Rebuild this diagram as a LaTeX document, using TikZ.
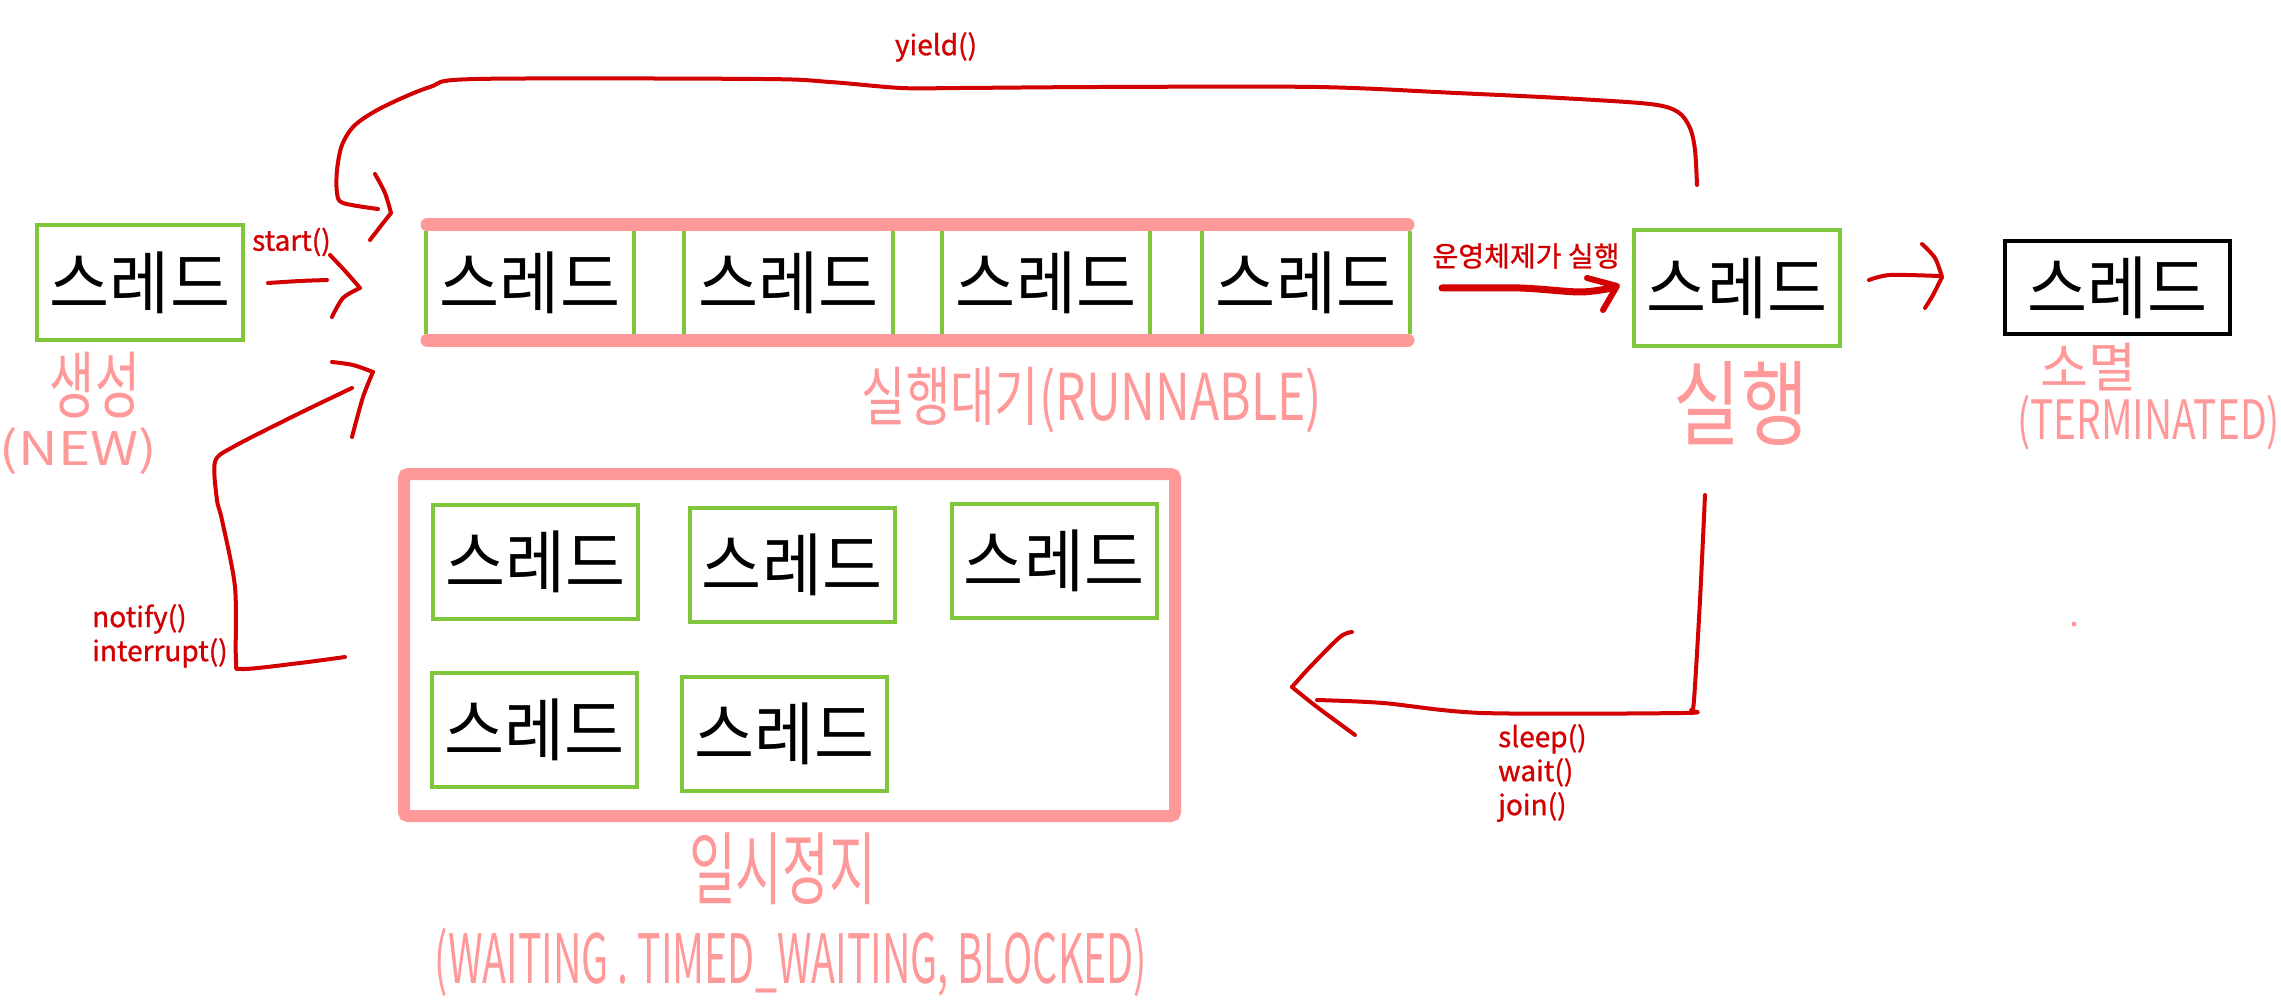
\documentclass[tikz,border=0pt]{standalone}
\usepackage{fontspec}
\usepackage{graphicx}
\setmainfont{Noto Sans CJK KR}
\newfontfamily\hand{Noto Sans CJK KR}
\newfontfamily\lblfont[FakeBold=1]{Noto Sans CJK KR}
\definecolor{grn}{RGB}{128,198,60}
\definecolor{pnk}{RGB}{255,153,153}
\definecolor{rd}{RGB}{210,0,0}
\newcommand\fitx[3]{\resizebox*{#1pt}{#2pt}{#3}}
\newcommand\thr{\fitx{180}{62}{스레드}}
\begin{document}
\begin{tikzpicture}[x=1pt,y=-1pt,
  thrbox/.style={draw=grn, line width=4pt, inner sep=0pt, minimum width=206pt, minimum height=115pt},
  wbox/.style={draw=grn, line width=4pt, inner sep=0pt, minimum width=205pt, minimum height=114pt},
  rbox/.style={inner sep=0pt, minimum width=208pt, minimum height=103pt},
  side/.style={grn, line width=4pt},
  bar/.style={pnk, line width=13pt, line cap=round},
  plab/.style={pnk, inner sep=0pt},
  rlab/.style={rd, inner sep=0pt, font=\lblfont\fontsize{28}{34}\selectfont, align=left},
  hd/.style={rd, line width=4pt, line cap=round, line join=round},
  hdthick/.style={rd, line width=7pt, line cap=round, line join=round}]
\fill[white] (0,0) rectangle (2281,1000);
\useasboundingbox (0,0) rectangle (2281,1000);

% NEW
\node[thrbox] (new) at (140,282.5) {\thr};
\node[plab] (newk) at (95,385) {\fitx{90}{66}{\hand 생성}};
\node[plab] (newe) at (78.5,451.5) {\fitx{157}{47}{\hand (NEW)}};

% RUNNABLE queue
\draw[bar] (427,225) -- (1408,225);
\draw[bar] (427,340) -- (1408,340);
\foreach \i/\cx in {1/530,2/788.5,3/1046,4/1306}{
  \node[rbox] (r\i) at (\cx,282.5) {\thr};
  \draw[side] (r\i.north west) -- (r\i.south west) (r\i.north east) -- (r\i.south east);
}
\node[plab] (runl) at (1092,400) {\fitx{460}{66}{\hand 실행대기(RUNNABLE)}};

% RUNNING
\node[thrbox] (exec) at (1737,288) {\thr};
\node[plab] (execl) at (1741,404) {\fitx{134}{84}{\hand 실행}};

% TERMINATED
\node[draw=black, line width=4pt, inner sep=0pt, minimum width=225pt, minimum height=93pt] (term) at (2117.5,287.5) {\thr};
\node[plab] (terml) at (2088,367) {\fitx{96}{48}{\hand 소멸}};
\node[plab] (terme) at (2148.5,422.5) {\fitx{263}{55}{\hand (TERMINATED)}};
\fill[pnk] (2074,624) circle (2.5);

% WAITING
\draw[pnk, line width=12pt, rounded corners=4pt] (404,474) rectangle (1175,816);
\node[wbox] (w1) at (535.5,562) {\thr};
\node[wbox] (w2) at (792,565) {\thr};
\node[wbox] (w3) at (1054,560.5) {\thr};
\node[wbox] (w4) at (534.5,729.5) {\thr};
\node[wbox] (w5) at (784.5,734) {\thr};
\node[plab] (waitk) at (782.5,869) {\fitx{187}{72}{\hand 일시정지}};
\node[plab] (waite) at (791,962.5) {\fitx{712}{69}{\hand (WAITING . TIMED\_WAITING, BLOCKED)}};

% labels
\node[rlab, anchor=west] (startl) at (252,242) {start()};
\node[rlab] (yieldl) at (936,47) {yield()};
\node[rd, inner sep=0pt] (osl) at (1526,256) {\resizebox{187pt}{!}{\lblfont\fontsize{28}{34}\selectfont 운영체제가 실행}};
\node[rlab, anchor=north west] (sleepl) at (1498,724) {sleep()\\wait()\\join()};
\node[rlab, anchor=north west] (notifyl) at (92,604) {notify()\\interrupt()};

% start arrow
\coordinate (s0) at (268,283);
\coordinate (s1) at (327,280);
\draw[hd] plot[smooth] coordinates {(s0) (300,281) (s1)};
\draw[hd] plot[smooth] coordinates {(330,255) (346,272) (360,288)};
\draw[hd] plot[smooth] coordinates {(360,288) (343,298) (332,317)};

% yield arrow
\coordinate (y0) at (1697,185);
\coordinate (y1) at (378,209);
\draw[hd] plot[smooth, tension=0.5] coordinates {(y0) (1695,150) (1690,128) (1678,112) (1650,104) (1560,98) (1456,93) (1317,87) (1100,87) (960,88) (901,88) (830,82) (762,79) (476,79) (430,87) (383,107) (355,125) (342,145) (337,170) (337,193) (343,203) (y1)};
\draw[hd] plot[smooth] coordinates {(375,174) (385,193) (391,213)};
\draw[hd] plot[smooth] coordinates {(391,213) (380,227) (370,240)};

% notify arrow
\coordinate (n0) at (345,657);
\coordinate (n1) at (352,388);
\draw[hd] plot[smooth, tension=0.5] coordinates {(n0) (300,663) (242,669) (236,660) (235,587) (222,520) (217,500) (215,462) (233,447) (300,413) (n1)};
\draw[hd] plot[smooth] coordinates {(332,362) (353,365) (373,372)};
\draw[hd] plot[smooth] coordinates {(373,372) (363,397) (352,437)};

% OS arrow
\coordinate (o0) at (1442,288);
\coordinate (o1) at (1612,288);
\draw[hdthick] plot[smooth] coordinates {(o0) (1520,288) (1580,292) (o1)};
\draw[rd, line width=6pt, line cap=round, line join=round] (1587,278) -- (1617,286) -- (1603,310);

% exec -> term
\coordinate (t0) at (1869,280);
\coordinate (t1) at (1939,276);
\draw[hd] plot[smooth] coordinates {(t0) (1890,275) (t1)};
\draw[hd] plot[smooth] coordinates {(1922,244) (1935,258) (1942,277)};
\draw[hd] plot[smooth] coordinates {(1942,277) (1933,295) (1925,308)};

% sleep arrow
\coordinate (p0) at (1705,495);
\coordinate (p1) at (1317,700);
\draw[hd] plot[smooth, tension=0.5] coordinates {(p0) (1700,600) (1694,700) (1691,710) (1683,713) (1483,713) (1383,703) (p1)};
\draw[hd] plot[smooth] coordinates {(1352,632) (1340,637) (1310,667) (1292,687)};
\draw[hd] plot[smooth] coordinates {(1292,687) (1317,707) (1355,735)};
\end{tikzpicture}
\end{document}
